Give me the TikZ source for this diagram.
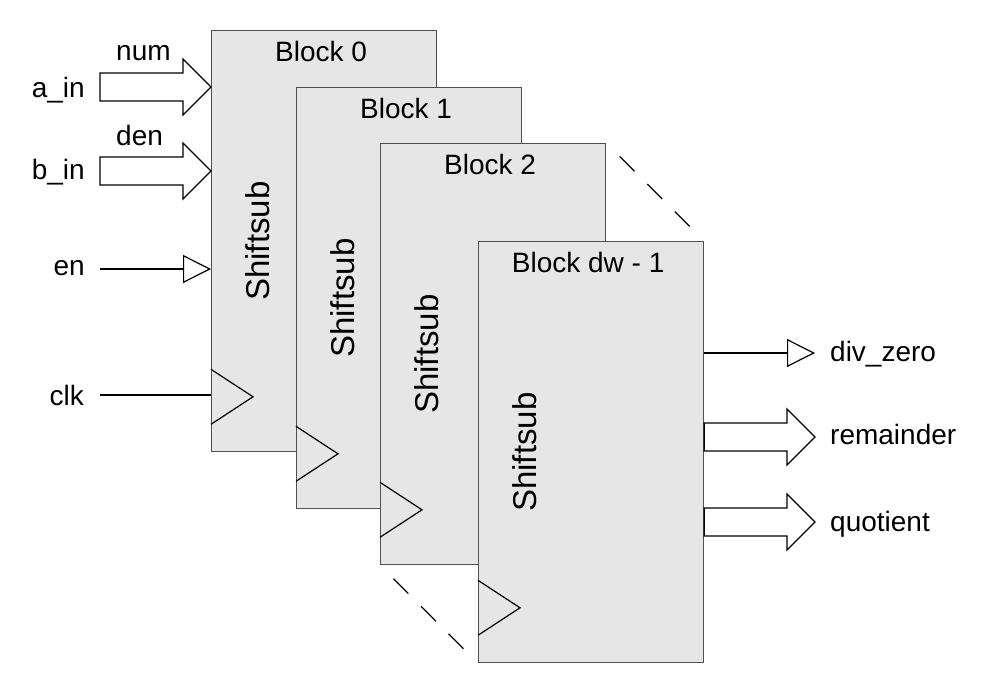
\documentclass[tikz,border=0pt]{standalone}
\usepackage{fontspec}
\setmainfont{Liberation Sans}
\usetikzlibrary{arrows.meta,calc}
\definecolor{BlockFill}{HTML}{E6E6E6}
\definecolor{BlockLine}{HTML}{505050}

\begin{document}
\begin{tikzpicture}[
  x=1pt, y=1pt,
  block/.style={draw=BlockLine, line width=1.3pt, fill=BlockFill, anchor=north west,
    minimum width=225pt, minimum height=421pt, inner sep=0pt},
  title/.style={font=\fontsize{28}{34}\selectfont, anchor=base, inner sep=0pt},
  core/.style={font=\fontsize{33}{40}\selectfont, rotate=90, inner sep=0pt},
  sig/.style={font=\fontsize{28}{34}\selectfont, inner sep=0pt},
  wire/.style={line width=1.2pt},
  arr/.style={wire, -{Triangle[open, length=28pt, width=28pt]}},
  bus/.style={wire, to path={let \p1=(\tikztostart), \p2=(\tikztotarget) in
      ({\x1},{\y1+14pt}) -- ({\x2-28pt},{\y1+14pt}) -- ({\x2-28pt},{\y1+28pt}) -- ({\x2},{\y1})
      -- ({\x2-28pt},{\y1-28pt}) -- ({\x2-28pt},{\y1-14pt}) -- ({\x1},{\y1-14pt}) -- cycle}},
  dashline/.style={wire, dash pattern=on 21pt off 18pt, shorten <=19pt, shorten >=19pt}
]
  \fill[white] (0,0) rectangle (989,-693);
  \useasboundingbox (0,0) rectangle (989,-693);

  % stages
  \node[block] (b0) at (211,-30) {};
  \draw[wire] ([yshift=28pt]b0.south west) -- ++(42,27.5) -- ++(-42,27.5);
  \node[core] (s0) at ([xshift=46.5pt]b0.west) {Shiftsub};
  \node[title] (t0) at ([xshift=-3pt,yshift=-31.5pt]b0.north) {Block 0};

  \node[block] (b1) at (296,-87) {};
  \draw[wire] ([yshift=28pt]b1.south west) -- ++(42,27.5) -- ++(-42,27.5);
  \node[core] (s1) at ([xshift=46.5pt]b1.west) {Shiftsub};
  \node[title] (t1) at ([xshift=-3pt,yshift=-31.5pt]b1.north) {Block 1};

  \node[block] (b2) at (380,-143) {};
  \draw[wire] ([yshift=28pt]b2.south west) -- ++(42,27.5) -- ++(-42,27.5);
  \node[core] (s2) at ([xshift=46.5pt]b2.west) {Shiftsub};
  \node[title] (t2) at ([xshift=-3pt,yshift=-31.5pt]b2.north) {Block 2};

  \node[block] (bd) at (478,-241) {};
  \draw[wire] ([yshift=28pt]bd.south west) -- ++(42,27.5) -- ++(-42,27.5);
  \node[core] (sd) at ([xshift=46.5pt]bd.west) {Shiftsub};
  \node[title] (td) at ([xshift=-3pt,yshift=-31.5pt]bd.north) {Block dw - 1};

  \draw[dashline] (b2.north east) -- (bd.north east);
  \draw[dashline] (b2.south west) -- (bd.south west);

  % inputs
  \coordinate (ain) at (100,-87);
  \coordinate (bin) at (100,-171);
  \coordinate (en) at (100,-269);
  \coordinate (clk) at (100,-395);
  \node[sig, anchor=base east] (ainl) at (85,-98) {a\_in};
  \node[sig, anchor=base west] (num) at (116,-61) {num};
  \node[sig, anchor=base east] (binl) at (85,-179) {b\_in};
  \node[sig, anchor=base west] (den) at (116,-145) {den};
  \node[sig, anchor=base east] (enl) at (85,-275) {en};
  \node[sig, anchor=base east] (clkl) at (84,-405) {clk};

  \draw[bus] (ain) to (b0.west |- ain);
  \draw[bus] (bin) to (b0.west |- bin);
  \draw[arr] (en) -- (b0.west |- en);
  \draw[wire] (clk) -- (b0.west |- clk);

  % outputs
  \coordinate (dz) at (815,-353);
  \coordinate (rem) at (815,-437);
  \coordinate (quo) at (815,-522);
  \node[sig, anchor=base west] (dzl) at (830,-361) {div\_zero};
  \node[sig, anchor=base west] (reml) at (830,-444) {remainder};
  \node[sig, anchor=base west] (quol) at (830,-531) {quotient};

  \draw[arr] (bd.east |- dz) -- (dz);
  \draw[bus] (bd.east |- rem) to (rem);
  \draw[bus] (bd.east |- quo) to (quo);
\end{tikzpicture}
\end{document}
